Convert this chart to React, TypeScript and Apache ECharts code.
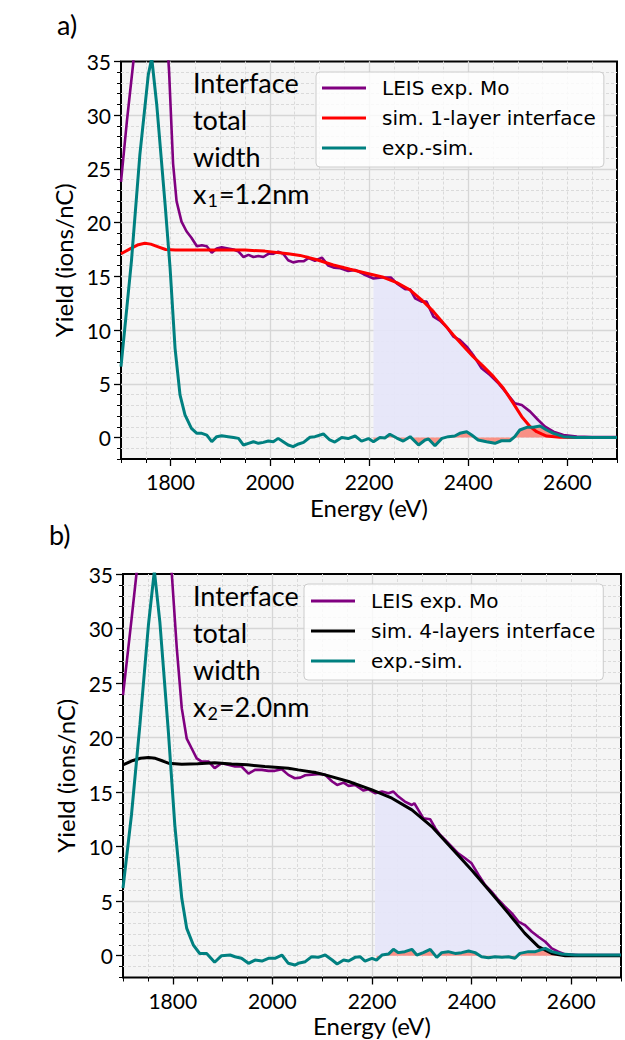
import React, { useEffect, useRef } from "react";
import * as echarts from "echarts";

// ---------- Panel a) data ----------
const energyExpA = [1700, 1712, 1725, 1740, 1755, 1762, 1772, 1790, 1797, 1805, 1812, 1822, 1832, 1842, 1853, 1863, 1873, 1883, 1893, 1903, 1916, 1927, 1937, 1947, 1957, 1967, 1977, 1987, 1997, 2007, 2017, 2027, 2037, 2047, 2058, 2068, 2078, 2091, 2105, 2118, 2130, 2142, 2158, 2172, 2189, 2209, 2226, 2244, 2256, 2273, 2283, 2293, 2306, 2316, 2330, 2343, 2357, 2370, 2383, 2397, 2410, 2427, 2444, 2461, 2478, 2494, 2508, 2525, 2541, 2555, 2572, 2592, 2619, 2650, 2680, 2700];
const yieldExpA = [23.8, 29.5, 35.0, 44.3, 51.9, 53.3, 48.9, 39.3, 34.0, 25.5, 22.0, 20.1, 19.2, 18.6, 17.8, 17.9, 17.8, 17.2, 17.6, 17.7, 17.6, 17.5, 17.3, 16.8, 17.0, 16.8, 16.9, 16.8, 17.1, 17.1, 17.3, 17.1, 16.5, 16.3, 16.4, 16.4, 16.7, 16.45, 16.75, 16.0, 15.8, 15.75, 15.5, 15.6, 15.2, 14.8, 14.9, 14.9, 14.35, 13.8, 13.8, 12.96, 12.65, 12.65, 11.25, 10.88, 10.26, 9.39, 9.08, 8.46, 7.68, 6.45, 5.82, 5.04, 4.11, 3.18, 3.03, 2.41, 1.63, 1.01, 0.54, 0.23, 0.08, 0.05, 0.05, 0.05];

const energySimA = [1700, 1720, 1735, 1748, 1760, 1775, 1790, 1810, 1850, 1900, 1950, 1990, 2037, 2061, 2095, 2128, 2162, 2195, 2229, 2256, 2283, 2310, 2330, 2350, 2370, 2390, 2410, 2431, 2451, 2471, 2491, 2508, 2525, 2538, 2558, 2585, 2620, 2700];
const yieldSimA = [17.1, 17.6, 17.95, 18.08, 18.0, 17.75, 17.5, 17.45, 17.46, 17.46, 17.45, 17.35, 17.1, 16.95, 16.55, 16.06, 15.66, 15.29, 14.91, 14.42, 13.73, 12.65, 11.72, 10.63, 9.55, 8.52, 7.53, 6.6, 5.67, 4.58, 3.18, 1.94, 1.01, 0.54, 0.14, 0.02, 0, 0];

const energyDiffA = [1700, 1721, 1738, 1755, 1762, 1772, 1789, 1799, 1809, 1819, 1829, 1842, 1853, 1863, 1873, 1883, 1893, 1903, 1916, 1927, 1937, 1947, 1957, 1967, 1977, 1987, 1997, 2007, 2017, 2027, 2037, 2047, 2058, 2068, 2081, 2091, 2108, 2121, 2131, 2145, 2158, 2172, 2185, 2199, 2209, 2222, 2232, 2242, 2256, 2269, 2283, 2300, 2313, 2320, 2333, 2347, 2360, 2373, 2383, 2397, 2407, 2420, 2437, 2454, 2467, 2484, 2494, 2504, 2518, 2531, 2545, 2558, 2572, 2592, 2619, 2645, 2672, 2700];
const yieldDiffA = [6.6, 16.4, 26.3, 33.75, 35.3, 31.0, 21.65, 15.75, 8.3, 3.96, 2.1, 0.85, 0.39, 0.39, 0.23, -0.39, 0.08, 0.17, 0.08, 0, -0.08, -0.7, -0.54, -0.39, -0.54, -0.45, -0.33, -0.39, -0.08, -0.39, -0.7, -0.85, -0.6, -0.45, 0.02, 0.08, 0.33, -0.23, -0.42, 0, -0.1, 0.14, -0.33, -0.1, -0.39, 0, -0.05, 0.3, -0.05, -0.33, 0.08, -0.7, -0.23, -0.14, -0.76, -0.08, 0.08, 0.14, 0.39, 0.54, 0.23, -0.23, -0.39, -0.54, -0.3, -0.3, 0.08, 0.7, 0.95, 0.95, 1.07, 0.7, 0.39, 0.08, 0, 0, 0, 0];

// ---------- Panel b) data ----------
const energyExpB = [1700, 1717, 1727, 1734, 1751, 1763, 1774, 1791, 1798, 1808, 1818, 1828, 1838, 1848, 1858, 1872, 1884, 1898, 1911, 1925, 1938, 1952, 1965, 1979, 1992, 2005, 2019, 2032, 2045, 2056, 2066, 2079, 2096, 2106, 2120, 2130, 2143, 2153, 2166, 2183, 2193, 2206, 2220, 2233, 2243, 2253, 2266, 2280, 2285, 2293, 2303, 2317, 2327, 2337, 2347, 2360, 2373, 2387, 2400, 2414, 2427, 2440, 2454, 2467, 2481, 2494, 2507, 2521, 2534, 2548, 2561, 2574, 2588, 2615, 2655, 2700];
const yieldExpB = [23.9, 30.8, 35.0, 39.2, 48.5, 53.4, 48.5, 38.3, 35.0, 28.2, 22.7, 19.9, 19.0, 18.1, 17.8, 17.8, 17.2, 17.65, 17.5, 17.35, 17.35, 16.7, 17.04, 17.04, 16.95, 16.95, 17.1, 16.58, 16.27, 16.33, 16.55, 16.6, 16.67, 16.58, 15.97, 15.66, 15.87, 15.57, 15.66, 15.14, 15.26, 14.9, 15.05, 14.9, 15.05, 14.59, 14.13, 13.82, 13.98, 13.37, 12.6, 12.51, 11.69, 11.07, 10.61, 10.0, 9.39, 8.93, 8.47, 7.4, 6.49, 5.87, 5.11, 4.5, 3.88, 3.12, 2.81, 2.2, 1.74, 1.28, 0.67, 0.37, 0.12, 0.06, 0.06, 0.06];

const energySimB = [1700, 1720, 1735, 1751, 1765, 1780, 1791, 1818, 1850, 1884, 1918, 1950, 1985, 2032, 2052, 2086, 2106, 2153, 2200, 2240, 2280, 2320, 2360, 2400, 2440, 2474, 2507, 2534, 2561, 2588, 2620, 2700];
const yieldSimB = [17.5, 17.9, 18.1, 18.17, 18.1, 17.85, 17.65, 17.55, 17.6, 17.7, 17.58, 17.5, 17.35, 17.19, 17.04, 16.8, 16.58, 15.97, 15.2, 14.44, 13.37, 11.84, 9.85, 7.86, 5.72, 3.88, 2.05, 0.83, 0.21, 0, 0, 0];

const energyDiffB = [1700, 1717, 1734, 1751, 1763, 1774, 1791, 1804, 1818, 1828, 1841, 1854, 1868, 1884, 1898, 1915, 1925, 1938, 1952, 1965, 1979, 1992, 2005, 2019, 2032, 2045, 2052, 2066, 2079, 2092, 2106, 2120, 2130, 2143, 2153, 2166, 2176, 2186, 2200, 2209, 2220, 2233, 2243, 2253, 2266, 2280, 2290, 2303, 2317, 2330, 2340, 2353, 2367, 2380, 2394, 2407, 2420, 2434, 2447, 2461, 2474, 2487, 2497, 2514, 2528, 2548, 2561, 2581, 2608, 2655, 2700];
const yieldDiffB = [6.2, 12.9, 21.2, 30.3, 35.3, 30.6, 20.6, 12.0, 5.26, 2.5, 1.0, 0.2, 0.2, -0.6, 0, 0.06, -0.1, -0.24, -0.7, -0.4, -0.49, -0.24, -0.24, 0.06, -0.7, -0.86, -0.7, -0.55, -0.09, -0.15, 0.06, -0.4, -0.76, -0.4, -0.49, -0.15, -0.09, -0.49, -0.24, -0.4, 0.06, 0.15, 0.58, 0.28, 0.37, 0.58, 0.06, 0.28, 0.58, -0.15, 0.28, 0.37, 0.21, 0.28, 0.43, 0.28, -0.09, -0.18, -0.09, -0.15, -0.09, -0.24, 0.21, 0.37, 0.37, 0.67, 0.37, 0.15, 0.06, 0.06, 0.06];

// ---------- axes / labels ----------
const FILL_START = 2205;
const xMajorTicks = [1800, 2000, 2200, 2400, 2600];
const yMajorTicks = [0, 5, 10, 15, 20, 25, 30, 35];
const legendNamesA = ["LEIS exp. Mo", "sim. 1-layer interface", "exp.-sim."];
const legendNamesB = ["LEIS exp. Mo", "sim. 4-layers interface", "exp.-sim."];

const FONT = 'Lato, "Open Sans", sans-serif';
const LEGEND_FONT = '"DejaVu Sans", sans-serif';
const PURPLE = "#800080";
const RED = "#ff0000";
const TEAL = "#008080";
const BLACK = "#000000";

const zip = (xs: number[], ys: number[]) => xs.map((x, i) => [x, ys[i]]);
const fromStart = (xs: number[], ys: number[], s: number) => zip(xs, ys).filter((p) => p[0] >= s);
const plain = (v: number) => String(v);

function xAxes(g: number) {
  return [
    {
      type: "value", gridIndex: g, min: 1700, max: 2700, interval: 50, position: "bottom",
      axisLine: { show: false, onZero: false },
      axisTick: { show: true, length: 4, lineStyle: { color: "#000", width: 1 } },
      axisLabel: { show: false },
      splitLine: { show: true, showMinLine: false, showMaxLine: false, lineStyle: { color: "#dadada", width: 1, type: [3, 2] } },
    },
    {
      type: "value", gridIndex: g, min: 1700, max: 2700, position: "bottom",
      axisLine: { show: false, onZero: false },
      axisTick: { show: true, length: 7, customValues: xMajorTicks, lineStyle: { color: "#000", width: 1.3 } },
      axisLabel: { show: true, customValues: xMajorTicks, formatter: plain, margin: 12, color: "#000", fontFamily: FONT, fontSize: 21 },
      splitLine: { show: true, showMinLine: false, showMaxLine: false, lineStyle: { color: "#d6d6d6", width: 1.3 } },
      name: "Energy (eV)", nameLocation: "middle", nameGap: 36,
      nameTextStyle: { color: "#000", fontFamily: FONT, fontSize: 24 },
    },
  ];
}

function yAxes(g: number) {
  return [
    {
      type: "value", gridIndex: g, min: -2, max: 35, interval: 1, position: "left",
      axisLine: { show: false, onZero: false },
      axisTick: { show: true, length: 4, lineStyle: { color: "#000", width: 1 } },
      axisLabel: { show: false },
      splitLine: { show: true, showMinLine: false, showMaxLine: false, lineStyle: { color: "#dadada", width: 1, type: [3, 2] } },
    },
    {
      type: "value", gridIndex: g, min: -2, max: 35, position: "left",
      axisLine: { show: false, onZero: false },
      axisTick: { show: true, length: 7, customValues: yMajorTicks, lineStyle: { color: "#000", width: 1.3 } },
      axisLabel: { show: true, customValues: yMajorTicks, formatter: plain, margin: 10, color: "#000", fontFamily: FONT, fontSize: 21 },
      splitLine: { show: true, showMinLine: false, showMaxLine: false, lineStyle: { color: "#d6d6d6", width: 1.3 } },
      name: "Yield (ions/nC)", nameLocation: "middle", nameGap: 45,
      nameTextStyle: { color: "#000", fontFamily: FONT, fontSize: 24 },
    },
  ];
}

function panelSeries(axisIdx: number, expE: number[], expY: number[], simE: number[], simY: number[], simName: string, simColor: string, difE: number[], difY: number[]) {
  const base = { type: "line", xAxisIndex: axisIdx, yAxisIndex: axisIdx, symbol: "none", showSymbol: false, silent: true, clip: true };
  return [
    { ...base, name: "area-exp", data: fromStart(expE, expY, FILL_START), lineStyle: { width: 0 }, areaStyle: { color: "#e6e6fa", opacity: 0.9 }, z: 2 },
    { ...base, name: "area-diff", data: fromStart(difE, difY, FILL_START), lineStyle: { width: 0 }, areaStyle: { color: "#fa8072", opacity: 0.85 }, z: 2 },
    { ...base, name: "LEIS exp. Mo", data: zip(expE, expY), lineStyle: { color: PURPLE, width: 2.6 }, itemStyle: { color: PURPLE }, z: 3 },
    { ...base, name: simName, data: zip(simE, simY), lineStyle: { color: simColor, width: 3 }, itemStyle: { color: simColor }, z: 4 },
    { ...base, name: "exp.-sim.", data: zip(difE, difY), lineStyle: { color: TEAL, width: 3 }, itemStyle: { color: TEAL }, z: 5 },
  ];
}

function legendFor(names: string[], left: number, top: number, padding: number[]) {
  return {
    data: names, left, top, orient: "vertical", icon: "rect", itemWidth: 44, itemHeight: 3, itemGap: 10,
    padding, backgroundColor: "rgba(255,255,255,0.8)", borderColor: "#cccccc", borderWidth: 1, borderRadius: 4,
    selectedMode: false,
    textStyle: { fontFamily: LEGEND_FONT, fontSize: 20, color: "#000", padding: [0, 0, 0, 11] },
  };
}

function annotation(x: number, y: number, sub: string, value: string) {
  return {
    type: "text", x, y, z: 100,
    style: {
      text: `{m|Interface}\n{m|total}\n{m|width}\n{m|x}{s|${sub}}{m|=${value}}`,
      verticalAlign: "top",
      rich: {
        m: { fontSize: 27, fontFamily: FONT, lineHeight: 37, fill: "#000" },
        s: { fontSize: 18, fontFamily: FONT, padding: [13, 1, 0, 1], fill: "#000" },
      },
    },
  };
}

export default function App() {
  const ref = useRef<HTMLDivElement>(null);
  useEffect(() => {
    if (!ref.current) return;
    const chart = echarts.init(ref.current, null, { renderer: "svg" });
    const option = {
      animation: false,
      backgroundColor: "#ffffff",
      grid: [
        { left: 121, top: 61.5, width: 496, height: 397.5, show: true, backgroundColor: "#f5f5f5", borderColor: "#000", borderWidth: 2 },
        { left: 123, top: 574, width: 498, height: 403.5, show: true, backgroundColor: "#f5f5f5", borderColor: "#000", borderWidth: 2 },
      ],
      xAxis: [...xAxes(0), ...xAxes(1)],
      yAxis: [...yAxes(0), ...yAxes(1)],
      legend: [
        legendFor(legendNamesA, 316, 72, [6, 8, 9, 6]),
        legendFor(legendNamesB, 304, 584, [7, 8, 9, 7]),
      ],
      series: [
        ...panelSeries(0, energyExpA, yieldExpA, energySimA, yieldSimA, "sim. 1-layer interface", RED, energyDiffA, yieldDiffA),
        ...panelSeries(2, energyExpB, yieldExpB, energySimB, yieldSimB, "sim. 4-layers interface", BLACK, energyDiffB, yieldDiffB),
      ],
      graphic: [
        { type: "text", x: 57, y: 11, style: { text: "a)", fontSize: 27, fontFamily: FONT, fill: "#000", verticalAlign: "top" } },
        { type: "text", x: 49, y: 521, style: { text: "b)", fontSize: 27, fontFamily: FONT, fill: "#000", verticalAlign: "top" } },
        annotation(193, 64, "1", "1.2nm"),
        annotation(193, 577, "2", "2.0nm"),
      ],
    };
    chart.setOption(option as any);
    return () => chart.dispose();
  }, []);
  return <div ref={ref} style={{ position: "absolute", left: 0, top: 0, width: 625, height: 1040 }} />;
}
